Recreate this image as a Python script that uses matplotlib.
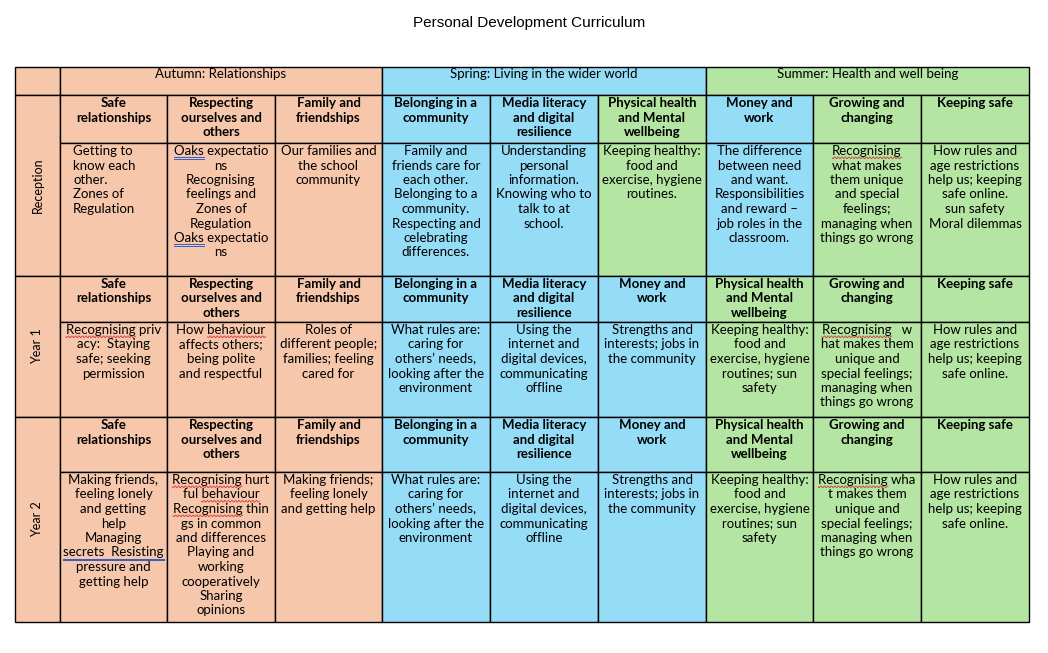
import re
import numpy as np
import matplotlib.pyplot as plt
from matplotlib.patches import Rectangle

PEACH = "#F7C7AC"
BLUE = "#95DCF7"
GREEN = "#B4E5A2"

TITLE = "Personal Development Curriculum"
TERMS = ["Autumn: Relationships", "Spring: Living in the wider world",
         "Summer: Health and well being"]
YEARS = ["Reception", "Year 1", "Year 2"]

# ~word~ = red wavy spelling underline, _word_ = blue double underline
RECEPTION_HEADS = [
    "Safe\nrelationships", "Respecting\nourselves and\nothers", "Family and\nfriendships",
    "Belonging in a\ncommunity", "Media literacy\nand digital\nresilience",
    "Physical health\nand Mental\nwellbeing", "Money and\nwork",
    "Growing and\nchanging", "Keeping safe",
]
YEAR_HEADS = [
    "Safe\nrelationships", "Respecting\nourselves and\nothers", "Family and\nfriendships",
    "Belonging in a\ncommunity", "Media literacy\nand digital\nresilience", "Money and\nwork",
    "Physical health\nand Mental\nwellbeing", "Growing and\nchanging", "Keeping safe",
]

RECEPTION_TOPICS = [
    "Getting to\nknow each\nother.\nZones of\nRegulation",
    "_Oaks_ expectatio\nns\nRecognising\nfeelings and\nZones of\nRegulation\n_Oaks_ expectatio\nns",
    "Our families and\nthe school\ncommunity",
    "Family and\nfriends care for\neach other.\nBelonging to a\ncommunity.\nRespecting and\ncelebrating\ndifferences.",
    "Understanding\npersonal\ninformation.\nKnowing who to\ntalk to at\nschool.",
    "Keeping healthy:\nfood and\nexercise, hygiene\nroutines.",
    "The difference\nbetween need\nand want.\nResponsibilities\nand reward \u2013\njob roles in the\nclassroom.",
    "~Recognising~\nwhat makes\nthem unique\nand special\nfeelings;\nmanaging when\nthings go wrong",
    "How rules and\nage restrictions\nhelp us; keeping\nsafe online.\nsun safety\nMoral dilemmas",
]
YEAR1_TOPICS = [
    "~Recognising~ priv\nacy:  Staying\nsafe; seeking\npermission",
    "How ~behaviour~\naffects others;\nbeing polite\nand respectful",
    "Roles of\ndifferent people;\nfamilies; feeling\ncared for",
    "What rules are:\ncaring for\nothers\u2019 needs,\nlooking after the\nenvironment",
    "Using the\ninternet and\ndigital devices,\ncommunicating\noffline",
    "Strengths and\ninterests; jobs in\nthe community",
    "Keeping healthy:\nfood and\nexercise, hygiene\nroutines; sun\nsafety",
    "~Recognising~   w\nhat makes them\nunique and\nspecial feelings;\nmanaging when\nthings go wrong",
    "How rules and\nage restrictions\nhelp us; keeping\nsafe online.",
]
YEAR2_TOPICS = [
    "Making friends,\nfeeling lonely\nand getting\nhelp\nManaging\n_secrets  Resisting_\npressure and\ngetting help",
    "~Recognising~ hurt\nful ~behaviour~\n~Recognising~ thin\ngs in common\nand differences\nPlaying and\nworking\ncooperatively\nSharing\nopinions",
    "Making friends;\nfeeling lonely\nand getting help",
    "What rules are:\ncaring for\nothers\u2019 needs,\nlooking after the\nenvironment",
    "Using the\ninternet and\ndigital devices,\ncommunicating\noffline",
    "Strengths and\ninterests; jobs in\nthe community",
    "Keeping healthy:\nfood and\nexercise, hygiene\nroutines; sun\nsafety",
    "~Recognising~ wha\nt makes them\nunique and\nspecial feelings;\nmanaging when\nthings go wrong",
    "How rules and\nage restrictions\nhelp us; keeping\nsafe online.",
]

RECEPTION_COLOURS = [PEACH, PEACH, PEACH, BLUE, BLUE, GREEN, BLUE, GREEN, GREEN]
YEAR_COLOURS = [PEACH, PEACH, PEACH, BLUE, BLUE, BLUE, GREEN, GREEN, GREEN]
TERM_COLOURS = [PEACH, BLUE, GREEN]

# layout in pixels
COL_X = [60, 167, 275, 382, 490, 598, 706, 813, 921, 1029]
LEFT = 15
TOP = 67
HEAD_BOTTOM = 95
ROWS = [(95, 143, 276), (276, 322, 417), (417, 472, 622)]
FONT = "Lato"
FS = 9.5
LINE_H = 14.5
FIRST = 12

fig = plt.figure(figsize=(10.48, 6.53), dpi=100)
ax = fig.add_axes([0, 0, 1, 1])
ax.set_xlim(0, 1048)
ax.set_ylim(653, 0)
ax.axis("off")
renderer = fig.canvas.get_renderer()


def cell(x0, y0, x1, y1, colour):
    ax.add_patch(Rectangle((x0, y0), x1 - x0, y1 - y0, facecolor=colour,
                           edgecolor="black", linewidth=1.0))


def text_width(s, weight):
    t = ax.text(0, 0, s, fontsize=FS, family=FONT, fontweight=weight)
    w = t.get_window_extent(renderer).width
    t.remove()
    return w


def underline(x0, x1, y, kind):
    if kind == "~":
        xs = np.linspace(x0, x1, max(int((x1 - x0) * 2), 2))
        ys = y + 2.8 + 0.9 * np.sin((xs - x0) * 2 * np.pi / 3.5)
        ax.plot(xs, ys, color="#D23A3A", linewidth=0.6)
    else:
        ax.plot([x0, x1], [y + 2.2, y + 2.2], color="#2F5BC8", linewidth=0.7)
        ax.plot([x0, x1], [y + 3.8, y + 3.8], color="#2F5BC8", linewidth=0.7)


def cell_text(text, x, top, ha="center", bold=False):
    weight = "bold" if bold else "normal"
    for i, raw in enumerate(text.split("\n")):
        plain = raw.replace("~", "").replace("_", "")
        y = top + FIRST + i * LINE_H
        t = ax.text(x, y, plain, ha=ha, va="baseline", fontsize=FS,
                    family=FONT, fontweight=weight)
        if "~" in raw or "_" in raw:
            start = t.get_window_extent(renderer).x0
            done = ""
            for seg in re.split(r"(~[^~]+~|_[^_]+_)", raw):
                if seg[:1] in ("~", "_"):
                    word = seg[1:-1]
                    end = text_width(done + word, weight)
                    underline(start + end - text_width(word, weight), start + end, y, seg[0])
                    done += word
                else:
                    done += seg


ax.text(529, 23, TITLE, ha="center", va="center", fontsize=11, family="Liberation Sans")

# term header row
cell(LEFT, TOP, COL_X[0], HEAD_BOTTOM, PEACH)
for k, term in enumerate(TERMS):
    x0, x1 = COL_X[3 * k], COL_X[3 * k + 3]
    cell(x0, TOP, x1, HEAD_BOTTOM, TERM_COLOURS[k])
    ax.text((x0 + x1) / 2, TOP + 11, term, ha="center", va="baseline",
            fontsize=FS, family=FONT)

heads = [RECEPTION_HEADS, YEAR_HEADS, YEAR_HEADS]
topics = [RECEPTION_TOPICS, YEAR1_TOPICS, YEAR2_TOPICS]
colours = [RECEPTION_COLOURS, YEAR_COLOURS, YEAR_COLOURS]

for r, (y0, ym, y1) in enumerate(ROWS):
    cell(LEFT, y0, COL_X[0], y1, PEACH)
    ax.text((LEFT + COL_X[0]) / 2, (y0 + y1) / 2, YEARS[r], rotation=90,
            ha="center", va="center", fontsize=9, family=FONT)
    for c in range(9):
        x0, x1 = COL_X[c], COL_X[c + 1]
        cell(x0, y0, x1, ym, colours[r][c])
        cell(x0, ym, x1, y1, colours[r][c])
        cell_text(heads[r][c], (x0 + x1) / 2, y0, bold=True)
        if r == 0 and c == 0:
            cell_text(topics[r][c], x0 + 13, ym, ha="left")
        else:
            cell_text(topics[r][c], (x0 + x1) / 2, ym)

fig.savefig("out.png", dpi=100)
